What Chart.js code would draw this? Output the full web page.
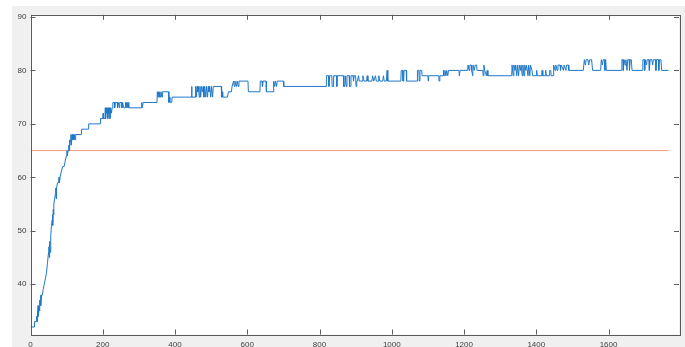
<!DOCTYPE html>
<html lang="en">
<head>
    <meta charset="UTF-8">
    <title>Accuracy per iteration</title>
    <style>
        html, body { margin: 0; padding: 0; background: #ffffff; }
        .figure {
            position: absolute; left: 12px; top: 6px;
            width: 673px; height: 341px; background: #f0f0f0;
        }
    </style>
</head>
<body>
    <div class="figure">
        <canvas id="accChart" width="673" height="341"></canvas>
    </div>

    <script src="https://cdn.jsdelivr.net/npm/chart.js"></script>
    <script>
        // accuracy trace as [iteration, value] turning points
        const accPoints = [
            [0,32],[10,32],[11,33],[16,33],[17,34],[18,33],[19,35],[20,34],[21,36],[22,34],[24,36],[25,35],
            [26,37],[27,36],[28,38],[29,36],[31,38],[33,38],[35,39],[38,40],[41,41],[44,42],[47,44],[50,46],
            [51,47],[52,45],[53,48],[54,46],[56,49],[58,51],[60,52],[61,53],[62,51],[63,54],[64,53],[65,55],
            [67,56],[69,57],[70,58],[71,56],[72,58],[75,59],[78,59],[79,60],[80,59],[82,60],[85,61],[89,62],
            [93,62],[96,63],[99,64],[101,65],[102,64],[104,65],[106,66],[107,65],[108,67],[109,66],[111,67],
            [112,68],[113,66],[115,68],[117,67],[118,68],[120,67],[121,68],[124,67],[125,68],[140,68],[141,69],
            [160,69],[161,70],[193,70],[194,71],[200,71],[201,72],[202,71],[206,71],[207,73],[208,71],[210,73],
            [211,72],[213,73],[214,71],[216,73],[217,72],[219,73],[220,71],[222,73],[224,72],[226,73],[228,74],
            [232,74],[233,73],[235,74],[240,74],[241,73],[243,74],[246,73],[247,74],[252,74],[253,73],[255,74],
            [258,73],[262,73],[263,74],[266,74],[267,73],[270,74],[272,73],[276,73],[307,73],[308,74],[309,73],
            [311,73],[312,74],[350,74],[351,76],[353,75],[354,76],[356,75],[357,76],[360,75],[361,76],[364,75],
            [365,76],[382,76],[383,74],[386,75],[387,74],[391,74],[392,75],[445,75],[446,77],[447,75],[456,75],
            [457,77],[459,75],[461,77],[463,76],[465,77],[467,75],[469,77],[471,75],[473,77],[476,76],[478,77],
            [480,75],[482,77],[485,75],[487,77],[490,75],[492,77],[494,76],[496,77],[499,75],[501,77],[504,75],
            [506,77],[528,77],[529,75],[531,76],[532,75],[545,75],[548,76],[556,76],[558,77],[562,78],[564,77],
            [566,78],[570,77],[572,78],[575,77],[577,78],[602,78],[603,76],[635,76],[636,78],[641,78],[642,77],
            [644,78],[652,78],[653,76],[672,76],[673,78],[676,77],[678,78],[681,77],[683,78],[700,78],[701,77],
            [818,77],[819,79],[825,79],[826,77],[828,79],[834,79],[835,77],[838,77],[839,79],[847,79],[848,77],
            [849,79],[866,79],[867,77],[870,77],[871,79],[874,77],[876,79],[882,79],[883,77],[886,77],[887,79],
            [893,79],[894,78],[896,79],[900,79],[901,77],[903,78],[905,78],[908,79],[910,78],[918,78],[920,79],
            [923,78],[930,78],[932,79],[934,78],[945,78],[947,79],[950,78],[955,79],[957,78],[962,78],[964,79],
            [967,78],[975,78],[977,79],[979,78],[985,78],[987,80],[989,78],[1025,78],[1026,80],[1030,80],
            [1031,78],[1033,78],[1034,80],[1040,80],[1041,78],[1070,78],[1071,80],[1075,80],[1076,78],[1078,80],
            [1083,80],[1084,79],[1100,79],[1101,78],[1102,79],[1130,79],[1131,78],[1133,79],[1142,79],[1143,80],
            [1145,79],[1147,80],[1150,79],[1152,80],[1155,79],[1157,80],[1186,80],[1187,79],[1189,80],[1210,80],
            [1211,81],[1214,80],[1216,81],[1220,81],[1221,80],[1224,79],[1225,81],[1228,80],[1231,81],[1235,81],
            [1236,80],[1252,80],[1253,79],[1255,81],[1257,80],[1262,79],[1264,80],[1266,79],[1332,79],[1333,81],
            [1336,79],[1338,81],[1341,80],[1343,81],[1346,79],[1348,81],[1351,79],[1353,81],[1356,80],[1358,81],
            [1361,79],[1363,81],[1366,79],[1368,81],[1371,80],[1373,81],[1377,79],[1379,81],[1382,79],[1384,81],
            [1388,80],[1390,79],[1400,79],[1401,80],[1403,79],[1415,79],[1416,80],[1418,79],[1425,79],[1426,80],
            [1428,79],[1436,79],[1437,80],[1440,80],[1441,79],[1447,79],[1448,81],[1452,80],[1454,81],[1458,80],
            [1460,81],[1466,81],[1467,80],[1469,81],[1475,80],[1477,81],[1482,80],[1484,81],[1489,81],[1490,80],
            [1530,80],[1533,82],[1536,81],[1538,82],[1543,82],[1545,81],[1548,82],[1553,82],[1556,80],[1578,80],
            [1580,82],[1583,81],[1585,82],[1589,82],[1590,80],[1592,82],[1594,80],[1636,80],[1637,82],[1640,82],
            [1641,80],[1643,82],[1646,81],[1648,82],[1651,80],[1653,82],[1657,82],[1658,80],[1660,82],[1663,82],
            [1665,80],[1694,80],[1695,82],[1699,82],[1700,80],[1702,82],[1705,81],[1707,82],[1712,82],[1713,80],
            [1715,82],[1720,82],[1722,81],[1724,82],[1730,82],[1731,80],[1733,82],[1738,82],[1739,80],[1741,82],
            [1745,82],[1747,80],[1766,80]
        ];

        const thresholdValue = 65;
        const thresholdSpan = [0, 1766];

        const xRange = [0, 1795];
        const yRange = [30.6, 90.4];
        const xTicks = [0, 200, 400, 600, 800, 1000, 1200, 1400, 1600];
        const yTicks = [40, 50, 60, 70, 80, 90];

        // MATLAB style box with inward tick marks on all four sides
        const axesBox = {
            id: 'axesBox',
            afterDraw(chart) {
                const { ctx, chartArea: a, scales } = chart;
                const len = 5;
                ctx.save();
                ctx.strokeStyle = '#5a5a5a';
                ctx.lineWidth = 1;
                ctx.strokeRect(Math.round(a.left) + 0.5, Math.round(a.top) + 0.5,
                    Math.round(a.right - a.left), Math.round(a.bottom - a.top));
                ctx.beginPath();
                scales.x.ticks.forEach(t => {
                    const px = Math.round(scales.x.getPixelForValue(t.value)) + 0.5;
                    ctx.moveTo(px, a.bottom); ctx.lineTo(px, a.bottom - len);
                    ctx.moveTo(px, a.top); ctx.lineTo(px, a.top + len);
                });
                scales.y.ticks.forEach(t => {
                    const py = Math.round(scales.y.getPixelForValue(t.value)) + 0.5;
                    ctx.moveTo(a.left, py); ctx.lineTo(a.left + len, py);
                    ctx.moveTo(a.right, py); ctx.lineTo(a.right - len, py);
                });
                ctx.stroke();
                ctx.restore();
            }
        };

        const plotBg = {
            id: 'plotBg',
            beforeDraw(chart) {
                const { ctx, chartArea: a } = chart;
                ctx.save();
                ctx.fillStyle = '#ffffff';
                ctx.fillRect(a.left, a.top, a.right - a.left, a.bottom - a.top);
                ctx.restore();
            }
        };

        const tickFont = { family: 'Liberation Sans, Arial, sans-serif', size: 8 };

        new Chart(document.getElementById('accChart').getContext('2d'), {
            type: 'line',
            data: {
                datasets: [{
                    data: accPoints.map(p => ({ x: p[0], y: p[1] })),
                    borderColor: '#1f78c8',
                    borderWidth: 1,
                    pointRadius: 0,
                    tension: 0
                }, {
                    data: thresholdSpan.map(x => ({ x: x, y: thresholdValue })),
                    borderColor: '#f19a7c',
                    borderWidth: 1,
                    pointRadius: 0
                }]
            },
            options: {
                responsive: false,
                animation: false,
                layout: { padding: { top: 6, right: 6, left: 0, bottom: 0 } },
                plugins: { legend: { display: false }, tooltip: { enabled: false } },
                scales: {
                    x: {
                        type: 'linear',
                        min: xRange[0],
                        max: xRange[1],
                        grid: { display: false, drawTicks: false },
                        border: { display: false },
                        afterBuildTicks(scale) { scale.ticks = xTicks.map(v => ({ value: v })); },
                        ticks: { autoSkip: false, maxRotation: 0, padding: 5, color: '#404040',
                                 font: tickFont, callback: v => String(v) },
                        afterFit(scale) { scale.height = 12.5; }
                    },
                    y: {
                        min: yRange[0],
                        max: yRange[1],
                        grid: { display: false, drawTicks: false },
                        border: { display: false },
                        afterBuildTicks(scale) { scale.ticks = yTicks.map(v => ({ value: v })); },
                        ticks: { autoSkip: false, padding: 4, color: '#404040',
                                 font: tickFont, callback: v => String(v) },
                        afterFit(scale) { scale.width = 18.5; }
                    }
                }
            },
            plugins: [plotBg, axesBox]
        });
    </script>
</body>
</html>
